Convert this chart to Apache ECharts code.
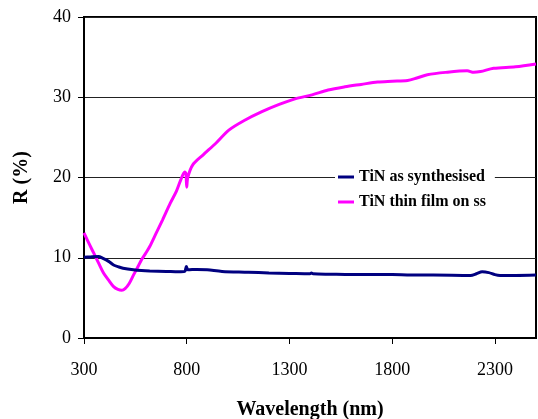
<!DOCTYPE html>
<html>
<head>
<meta charset="utf-8">
<script src="https://cdn.jsdelivr.net/npm/echarts@6/dist/echarts.min.js"></script>
<style>
  html, body { margin: 0; padding: 0; background: #fff; }
  #chart { width: 538px; height: 419px; }
</style>
</head>
<body>
<div id="chart"></div>
<script>
// wavelength (nm) and reflectance (%)
const synthNm = [300, 330, 371, 390, 420, 444, 470, 490, 540, 580, 620, 700, 760, 790, 798, 806, 850, 900, 972, 1100, 1200, 1300, 1400, 1407, 1415, 1500, 1600, 1800, 1891, 2000, 2181, 2210, 2238, 2270, 2300, 2325, 2400, 2500];
const synthR  = [10.05, 10.1, 10.15, 9.95, 9.55, 9.1, 8.85, 8.7, 8.5, 8.4, 8.35, 8.3, 8.25, 8.3, 8.9, 8.5, 8.55, 8.5, 8.3, 8.2, 8.1, 8.05, 8.0, 8.1, 8.0, 7.95, 7.9, 7.9, 7.85, 7.85, 7.8, 8.0, 8.25, 8.15, 7.9, 7.8, 7.8, 7.85];

const filmNm = [300, 320, 347, 370, 395, 420, 444, 465, 484, 500, 520, 540, 560, 580, 600, 620, 650, 682, 720, 750, 771, 790, 796, 800, 805, 830, 879, 943, 1005, 1080, 1166, 1250, 1327, 1410, 1488, 1570, 1649, 1729, 1800, 1875, 1920, 1971, 2060, 2165, 2197, 2230, 2294, 2400, 2500];
const filmR  = [13.1, 12.0, 10.6, 9.4, 8.1, 7.2, 6.4, 6.05, 5.95, 6.15, 6.8, 7.8, 8.75, 9.75, 10.55, 11.4, 13.0, 14.7, 16.8, 18.3, 19.7, 20.7, 20.5, 18.8, 20.0, 21.6, 22.8, 24.3, 25.9, 27.1, 28.2, 29.1, 29.8, 30.3, 30.9, 31.3, 31.6, 31.9, 32.0, 32.1, 32.4, 32.8, 33.1, 33.3, 33.1, 33.2, 33.6, 33.8, 34.15];

const xTicks = [300, 800, 1300, 1800, 2300];
const seriesNames = ['TiN as synthesised', 'TiN thin film on ss'];

const font = '"Liberation Serif", "Times New Roman", serif';
const pairs = (xs, ys) => xs.map((x, i) => [x, ys[i]]);

const chart = echarts.init(document.getElementById('chart'), null, { renderer: 'canvas' });

chart.setOption({
  animation: false,
  textStyle: { fontFamily: font },
  grid: {
    left: 84, right: 2, top: 17, bottom: 81,
    outerBoundsMode: 'none',
    show: true,
    borderColor: '#000',
    borderWidth: 2,
    backgroundColor: '#fff'
  },
  legend: {
    data: seriesNames,
    orient: 'vertical',
    left: 335,
    top: 165,
    backgroundColor: '#fff',
    padding: [4, 9, 4, 3],
    itemGap: 9,
    itemWidth: 16,
    itemHeight: 3,
    icon: 'rect',
    textStyle: { fontFamily: font, fontSize: 16, fontWeight: 'bold', color: '#000' }
  },
  xAxis: {
    type: 'value',
    min: 300,
    max: 2500,
    name: 'Wavelength (nm)',
    nameLocation: 'middle',
    nameGap: 62,
    nameTextStyle: { fontFamily: font, fontSize: 20, fontWeight: 'bold', color: '#000' },
    axisLine: { show: true, lineStyle: { color: '#000', width: 2 } },
    axisTick: { show: true, length: 6, customValues: xTicks, lineStyle: { color: '#000', width: 1 } },
    axisLabel: {
      customValues: xTicks,
      formatter: v => String(v),
      margin: 23, fontSize: 18, color: '#000', fontFamily: font
    },
    splitLine: { show: false }
  },
  yAxis: {
    type: 'value',
    min: 0,
    max: 40,
    interval: 10,
    name: 'R (%)',
    nameLocation: 'middle',
    nameGap: 52,
    nameTextStyle: { fontFamily: font, fontSize: 20, fontWeight: 'bold', color: '#000' },
    axisLine: { show: true, lineStyle: { color: '#000', width: 2 } },
    axisTick: { show: true, length: 6, lineStyle: { color: '#000', width: 1 } },
    axisLabel: { margin: 13, fontSize: 18, color: '#000', fontFamily: font },
    splitLine: { show: true, lineStyle: { color: '#222', width: 1 } }
  },
  series: [
    {
      name: seriesNames[0],
      type: 'line',
      data: pairs(synthNm, synthR),
      showSymbol: false,
      smooth: 0.3,
      color: '#000080',
      lineStyle: { color: '#000080', width: 3 },
      z: 3
    },
    {
      name: seriesNames[1],
      type: 'line',
      data: pairs(filmNm, filmR),
      showSymbol: false,
      smooth: 0.3,
      color: '#ff00ff',
      lineStyle: { color: '#ff00ff', width: 3 },
      z: 2
    }
  ]
});

window.addEventListener('resize', () => chart.resize());
</script>
</body>
</html>
